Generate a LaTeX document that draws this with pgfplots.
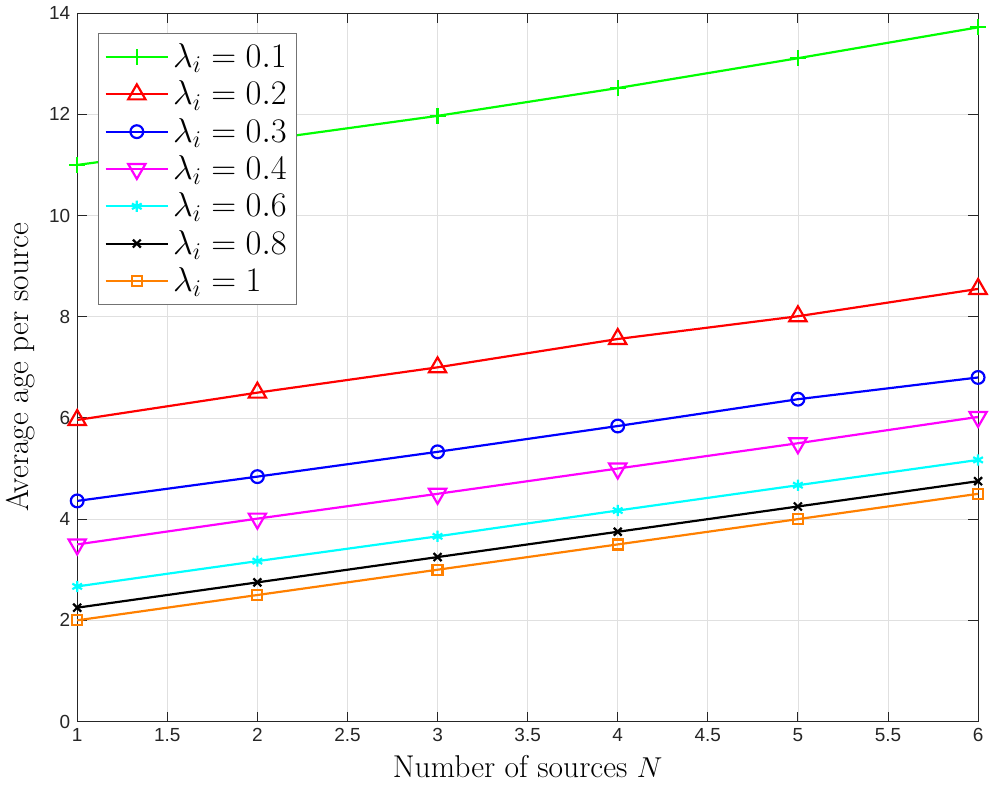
\documentclass[border=0pt]{standalone}
\usepackage{pgfplots}
\pgfplotsset{compat=1.18}
\usepackage{fontspec}
\newfontfamily\ticksf{Liberation Sans}
\definecolor{morange}{RGB}{255,128,0}
\definecolor{mgreen}{RGB}{0,255,0}
\definecolor{mred}{RGB}{255,0,0}
\definecolor{mblue}{RGB}{0,0,255}
\definecolor{mmagenta}{RGB}{255,0,255}
\definecolor{mcyan}{RGB}{0,255,255}
\definecolor{axgray}{RGB}{38,38,38}
\begin{document}
\begin{tikzpicture}
\begin{axis}[
  scale only axis,
  width=451.5pt, height=355pt,
  xmin=1, xmax=6, ymin=0, ymax=14,
  xtick={1,1.5,...,6},
  ytick={0,2,...,14},
  xticklabels={1,1.5,2,2.5,3,3.5,4,4.5,5,5.5,6},
  yticklabels={0,2,4,6,8,10,12,14},
  tick label style={font=\ticksf\fontsize{9.5}{11}\selectfont, color=axgray},
  grid=major,
  major grid style={color=black!12, line width=0.4pt},
  axis line style={color=axgray, line width=0.5pt},
  tick style={color=axgray, line width=0.5pt},
  tick align=inside,
  major tick length=5pt,
  xlabel={\fontsize{15.8}{18}\selectfont Number of sources $N$},
  ylabel={\fontsize{15.8}{18}\selectfont Average age per source},
  xlabel style={yshift=0pt},
  ylabel style={yshift=0pt},
  legend style={at={(0.023,0.972)}, anchor=north west, draw=black!55, line width=0.6pt,
    font=\fontsize{17}{20}\selectfont, row sep=1.2pt, inner xsep=3pt, inner ysep=3pt},
  legend image code/.code={
    \draw[mark repeat=2,mark phase=2] plot coordinates {(0cm,0cm)(0.55cm,0cm)(1.1cm,0cm)};},
  legend cell align=left,
  every axis plot/.append style={line width=1.1pt},
]
\addplot[color=mgreen, mark=+, mark size=4pt] coordinates {(1,11.0)(2,11.48)(3,11.97)(4,12.52)(5,13.11)(6,13.72)};
\addlegendentry{$\lambda_i=0.1$}
\addplot[color=mred, mark=triangle, mark size=5pt] coordinates {(1,5.96)(2,6.5)(3,7.0)(4,7.56)(5,8.01)(6,8.55)};
\addlegendentry{$\lambda_i=0.2$}
\addplot[color=mblue, mark=o, mark size=3.2pt] coordinates {(1,4.36)(2,4.84)(3,5.33)(4,5.84)(5,6.37)(6,6.8)};
\addlegendentry{$\lambda_i=0.3$}
\addplot[color=mmagenta, mark=triangle, mark options={rotate=180}, mark size=5pt] coordinates {(1,3.5)(2,4.01)(3,4.5)(4,5.0)(5,5.5)(6,6.02)};
\addlegendentry{$\lambda_i=0.4$}
\addplot[color=mcyan, mark=asterisk, mark size=2.8pt] coordinates {(1,2.67)(2,3.17)(3,3.66)(4,4.17)(5,4.67)(6,5.17)};
\addlegendentry{$\lambda_i=0.6$}
\addplot[color=black, mark=x, mark size=2.8pt] coordinates {(1,2.25)(2,2.75)(3,3.25)(4,3.75)(5,4.25)(6,4.75)};
\addlegendentry{$\lambda_i=0.8$}
\addplot[color=morange, mark=square, mark size=2.5pt] coordinates {(1,2.0)(2,2.5)(3,3.0)(4,3.5)(5,4.0)(6,4.5)};
\addlegendentry{$\lambda_i=1$}
\end{axis}
\end{tikzpicture}
\end{document}
